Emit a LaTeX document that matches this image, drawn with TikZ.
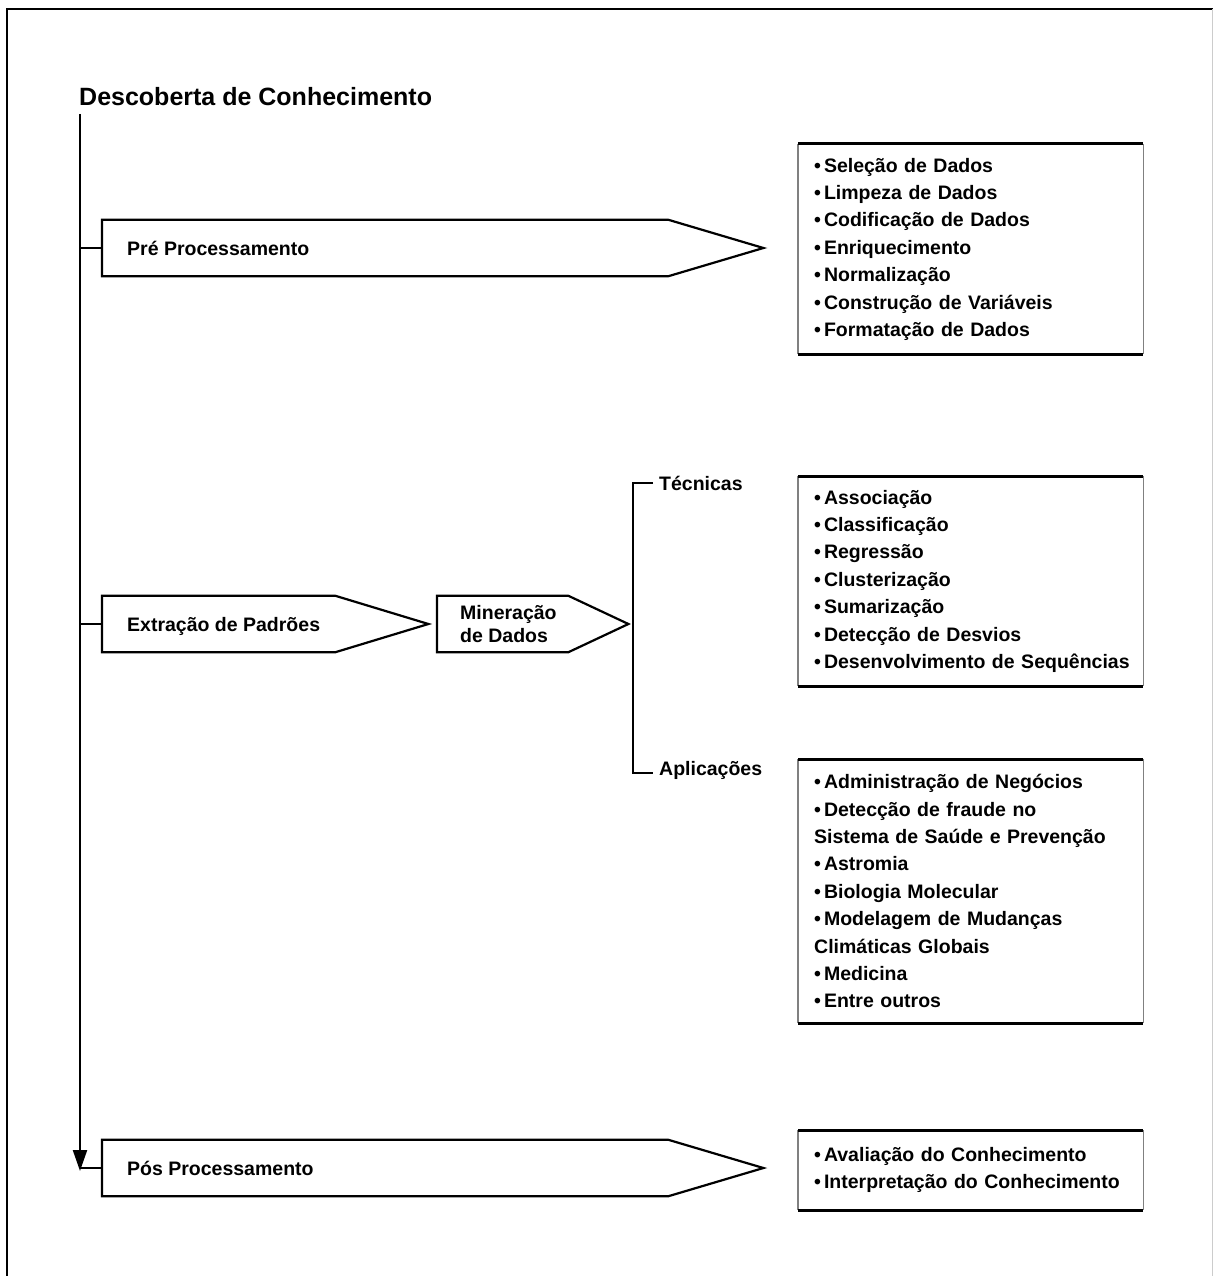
\documentclass[tikz,border=0pt]{standalone}
\usepackage{fontspec}
\setmainfont{Liberation Sans}
\usetikzlibrary{arrows.meta, calc, positioning}

\newcommand{\bala}{•\hspace{3pt}}

\begin{document}
\begin{tikzpicture}[x=1pt, y=-1pt,
    linha/.style={line width=2.2pt},
    txt/.style={font=\bfseries\fontsize{19.5}{23}\selectfont, inner sep=0pt},
    seta/.style={minimum height=56, inner sep=0pt, anchor=west},
    lista/.style={anchor=north west, minimum width=345,
        text width=313, inner xsep=16pt, inner ysep=0pt, align=left,
        font=\bfseries\fontsize{19.5}{27.4}\selectfont}]
    \useasboundingbox (0,0) rectangle (1213,1276);

    % moldura
    \draw[line width=2.5pt] (7,1290) -- (7,9) -- (1213,9);
    \draw[gray!40, line width=1pt] (1212,9) -- (1212,1290);

    \node[font=\bfseries\fontsize{25}{30}\selectfont, inner sep=0pt, anchor=base west]
        (titulo) at (79,106) {Descoberta de Conhecimento};

    % eixo principal
    \coordinate (topo) at (80,114);
    \coordinate (fim) at (80,1171);
    \draw[linha, -{Triangle[length=21pt, width=14pt]}] (topo) -- (fim);

    % setas
    \node[seta, minimum width=566] (pre) at (102,248) {};
    \node[seta, minimum width=233] (ext) at (102,624) {};
    \node[seta, minimum width=131] (min) at (437,624) {};
    \node[seta, minimum width=566] (pos) at (102,1168) {};
    \draw[linha] (pre.north west) -- (pre.north east) -- ($(pre.east)+(95,0)$)
        -- (pre.south east) -- (pre.south west) -- cycle;
    \draw[linha] (ext.north west) -- (ext.north east) -- ($(ext.east)+(93,0)$)
        -- (ext.south east) -- (ext.south west) -- cycle;
    \draw[linha] (min.north west) -- (min.north east) -- ($(min.east)+(60,0)$)
        -- (min.south east) -- (min.south west) -- cycle;
    \draw[linha] (pos.north west) -- (pos.north east) -- ($(pos.east)+(95,0)$)
        -- (pos.south east) -- (pos.south west) -- cycle;

    \draw[linha] (pre.west -| topo) -- (pre.west);
    \draw[linha] (ext.west -| topo) -- (ext.west);
    \draw[linha] (pos.west -| topo) -- (pos.west);

    \node[txt, anchor=base west] (pretxt) at (127,255) {Pré Processamento};
    \node[txt, anchor=base west] (exttxt) at (127,631) {Extração de Padrões};
    \node[txt, anchor=west, align=left] (mintxt) at (460,624) {Mineração\\de Dados};
    \node[txt, anchor=base west] (postxt) at (127,1175) {Pós Processamento};

    % chave
    \node[txt, anchor=base west] (tec) at (659,490) {Técnicas};
    \node[txt, anchor=base west] (apl) at (659,775) {Aplicações};
    \coordinate (ctopo) at (633,483);
    \coordinate (cbase) at (633,773);
    \draw[linha] ($(ctopo)+(20,0)$) -- (ctopo) -- (cbase) -- ($(cbase)+(20,0)$);

    % listas
    \node[lista, minimum height=210] (lpre) at (798,144) {%
        \bala Seleção de Dados\\
        \bala Limpeza de Dados\\
        \bala Codificação de Dados\\
        \bala Enriquecimento\\
        \bala Normalização\\
        \bala Construção de Variáveis\\
        \bala Formatação de Dados};
    \node[lista, minimum height=210] (ltec) at (798,476) {%
        \bala Associação\\
        \bala Classificação\\
        \bala Regressão\\
        \bala Clusterização\\
        \bala Sumarização\\
        \bala Detecção de Desvios\\
        \mbox{\bala Desenvolvimento de Sequências}};
    \node[lista, minimum height=264] (lapl) at (798,759) {%
        \bala Administração de Negócios\\
        \bala Detecção de fraude no\\
        Sistema de Saúde e Prevenção\\
        \bala Astromia\\
        \bala Biologia Molecular\\
        \bala Modelagem de Mudanças\\
        Climáticas Globais\\
        \bala Medicina\\
        \bala Entre outros};
    \node[lista, minimum height=80] (lpos) at (798,1130) {%
        \bala Avaliação do Conhecimento\\
        \mbox{\bala Interpretação do Conhecimento}};

    \foreach \b in {lpre,ltec,lapl,lpos} {
        \draw[gray, line width=1.5pt] (\b.north west) -- (\b.south west)
            (\b.north east) -- (\b.south east);
        \draw[line width=3pt] (\b.north west) -- (\b.north east)
            (\b.south west) -- (\b.south east);
    }
\end{tikzpicture}
\end{document}
